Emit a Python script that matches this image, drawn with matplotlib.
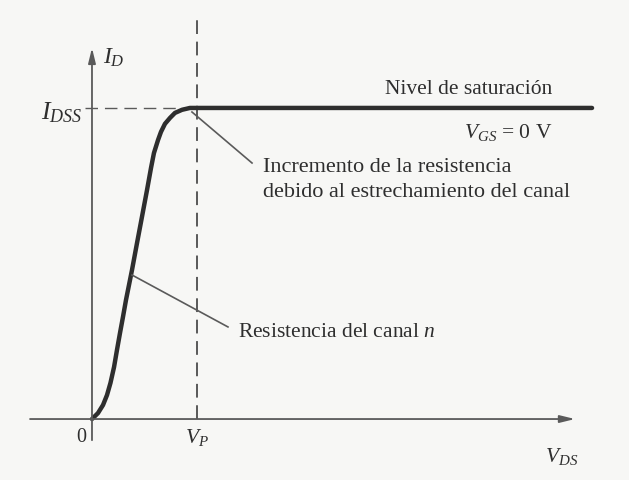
import matplotlib
matplotlib.use("Agg")
import matplotlib.pyplot as plt
import numpy as np

plt.rcParams["font.family"] = ["Liberation Serif", "DejaVu Serif"]
plt.rcParams["mathtext.fontset"] = "custom"
plt.rcParams["mathtext.rm"] = "Liberation Serif"
plt.rcParams["mathtext.it"] = "Liberation Serif:italic"

# V_DS / V_P  and  I_D / I_DSS along the V_GS = 0 V characteristic
vds = [0.0, 0.057, 0.105, 0.143, 0.176, 0.210, 0.238, 0.267, 0.295,
       0.324, 0.381, 0.429, 0.476, 0.524, 0.562, 0.590, 0.629, 0.657,
       0.695, 0.743, 0.790, 0.857, 0.933, 1.0, 4.762]
i_d = [0.0, 0.019, 0.045, 0.077, 0.116, 0.167, 0.222, 0.277, 0.328,
       0.383, 0.479, 0.566, 0.650, 0.736, 0.807, 0.855, 0.897, 0.923,
       0.949, 0.968, 0.984, 0.994, 1.0, 1.0, 1.0]

vp = 1.0
idss = 1.0

ink = "#2e2e2e"
axis_col = "#5a5a5a"
bg = "#f7f7f5"

fig = plt.figure(figsize=(6.29, 4.80), dpi=100)
fig.patch.set_facecolor(bg)
ax = fig.add_axes([0, 0, 1, 1])
ax.set_facecolor(bg)
ax.set_xlim(-0.876, 5.114)
ax.set_ylim(-0.196, 1.347)
ax.axis("off")

# axes with arrow heads
head = "-|>,head_length=0.9,head_width=0.22"
ax.annotate("", xy=(4.60, 0), xytext=(-0.59, 0),
            arrowprops=dict(arrowstyle=head, color=axis_col, lw=1.3, shrinkA=0, shrinkB=0))
ax.annotate("", xy=(0, 1.193), xytext=(0, -0.068),
            arrowprops=dict(arrowstyle=head, color=axis_col, lw=1.3, shrinkA=0, shrinkB=0))

# I_DSS and V_P guide lines
ax.plot([-0.067, vp], [idss, idss], color=axis_col, lw=1.0, ls=(0, (9, 5)))
ax.plot([vp, vp], [0, 1.283], color=ink, lw=1.1, ls=(0, (9, 5)))

# characteristic curve
ax.plot(vds, i_d, color=ink, lw=3.2, solid_capstyle="round", solid_joinstyle="round")

# leader lines
ax.plot([0.952, 1.524], [0.987, 0.823], color=axis_col, lw=1.2)
ax.plot([0.381, 1.295], [0.463, 0.296], color=axis_col, lw=1.2)

fs = 15.5
ax.text(4.38, 1.03, "Nivel de saturación", ha="right", va="bottom", fontsize=fs, color=ink)
ax.text(4.38, 0.955, r"$V_{GS}$ = 0 V", ha="right", va="top", fontsize=fs, color=ink)
ax.text(1.629, 0.807, "Incremento de la resistencia", ha="left", va="center", fontsize=16, color=ink)
ax.text(1.629, 0.727, "debido al estrechamiento del canal", ha="left", va="center", fontsize=16, color=ink)
ax.text(1.39, 0.277, r"Resistencia del canal $n$", ha="left", va="center", fontsize=fs, color=ink)

ax.text(0.105, 1.161, r"$I_D$", ha="left", va="center", fontsize=fs + 1.5, color=ink)
ax.text(-0.09, 0.985, r"$I_{DSS}$", ha="right", va="center", fontsize=fs + 3, color=ink)
ax.text(-0.05, -0.058, "0", ha="right", va="center", fontsize=fs - 1, color=ink)
ax.text(vp, -0.058, r"$V_P$", ha="center", va="center", fontsize=fs, color=ink)
ax.text(4.476, -0.122, r"$V_{DS}$", ha="center", va="center", fontsize=fs, color=ink)

fig.savefig("out.png", dpi=100, facecolor=fig.get_facecolor())
